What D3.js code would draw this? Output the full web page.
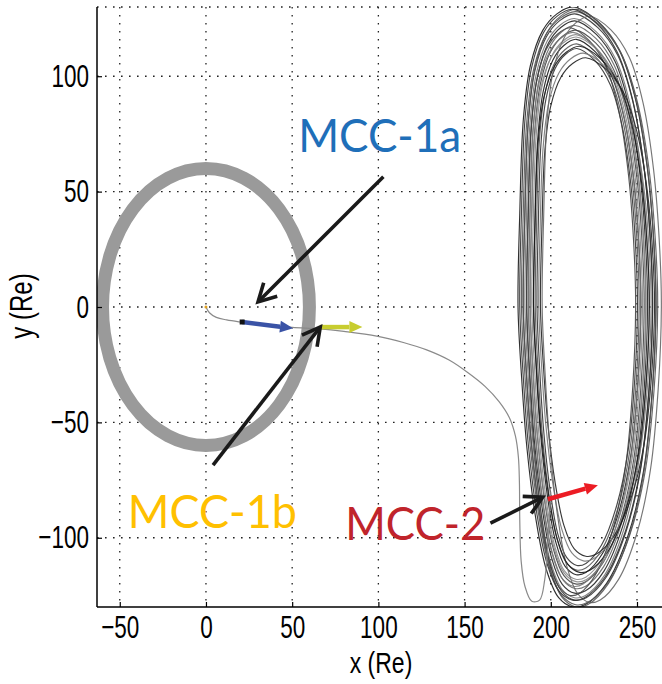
<!DOCTYPE html>
<html><head><meta charset="utf-8">
<script src="https://cdn.jsdelivr.net/npm/d3@7"></script>
<style>
html,body{margin:0;padding:0;background:#fff;}
svg{display:block;}
</style></head>
<body>
<svg id="chart" width="662" height="684"></svg>
<script>
// ---------- data ----------
const xTicks = [-50, 0, 50, 100, 150, 200, 250];
const yTicks = [-100, -50, 0, 50, 100];
const xDomain = [-63.2, 264.5];
const yDomain = [-130, 130];

// lunar orbit (ring)
const moonOrbitCenter = [0, 0];
const moonOrbitRadius = 60;

// transfer trajectory (x, y in Re)
const trajX = [0, 2, 6, 12, 20, 35, 50, 66, 80, 99, 115, 128, 141, 152, 162, 170, 176, 179.5, 181.2, 181.8, 182, 182.8, 185, 189, 193.5, 196.5, 198.5, 200];
const trajY = [0, -2.5, -4.5, -5.6, -6.5, -7.8, -8.8, -9.5, -10.6, -12.6, -15.5, -18.6, -23, -28.5, -34.5, -41, -48, -56, -65, -76, -92, -110, -121, -127.5, -127, -118, -100, -80];

// halo orbit: normalized base loop shape (u across, v vertical)
const haloShapeU = [-0.215, 0.139, 0.443, 0.671, 0.848, 0.949, 0.975, 0.924, 0.797, 0.570, 0.266, -0.038, -0.215, -0.418, -0.595, -0.747, -0.873, -0.949, -1, -0.975, -0.924, -0.823, -0.646, -0.443];
const haloShapeV = [1, 0.953, 0.859, 0.703, 0.469, 0.195, 0, -0.273, -0.547, -0.766, -0.922, -0.992, -1, -0.969, -0.875, -0.703, -0.469, -0.234, 0, 0.313, 0.625, 0.805, 0.922, 0.977];
// per-loop extents (Re)
const haloLeft   = [181, 183, 184, 185, 186, 187, 188, 189, 190, 191, 192, 193, 194, 195, 186, 188, 190, 184, 182, 187];
const haloRight  = [262, 263, 260, 258, 257, 256, 255, 254, 253, 252, 251, 259, 261, 265, 250, 256, 258, 262, 260, 253];
const haloTop    = [130, 128, 127, 125, 124, 122, 120, 118, 116, 114, 112, 110, 108, 126, 121, 117, 113, 129, 129, 119];
const haloBottom = [-130, -129, -127, -126, -124, -122, -120, -118, -116, -114, -112, -110, -108, -128, -125, -119, -115, -130, -127, -121];

// maneuver burns
const burnNames = ["MCC-1a", "MCC-1b", "MCC-2"];
const burnStart = [[21, -6.5], [66, -8.7], [198.3, -83.3]];
const burnEnd   = [[50.5, -9.2], [90.7, -8.7], [227.3, -77.2]];

// annotation arrows (tail -> tip)
const annotTail = [[102.9, 56.4], [4.1, -68.5], [165, -93.7]];
const annotTip  = [[30.2, 2.2], [66.3, -8.7], [195.3, -82.4]];
// label anchor positions (x left, y baseline in Re)
const labelPos = [[53.5, 67.3], [-45.3, -95.8], [80.8, -101]];

// ---------- drawing ----------
const svg = d3.select("#chart");
const L = 97, R = 662, T = 7, B = 607;
const x = d3.scaleLinear().domain(xDomain).range([L, R]);
const y = d3.scaleLinear().domain(yDomain).range([B, T]);

svg.append("defs").append("clipPath").attr("id", "clip")
  .append("rect").attr("x", L).attr("y", T).attr("width", R - L).attr("height", B - T);

// grid
const grid = svg.append("g");
const dash = "1.6,6.4";
grid.selectAll(".gx").data(xTicks).join("line")
  .attr("x1", d => x(d)).attr("x2", d => x(d)).attr("y1", T).attr("y2", B)
  .attr("stroke", "#222").attr("stroke-width", 1.3).attr("stroke-dasharray", dash);
grid.selectAll(".gy").data(yTicks.concat([yDomain[1]])).join("line")
  .attr("y1", d => y(d)).attr("y2", d => y(d)).attr("x1", L).attr("x2", R)
  .attr("stroke", "#222").attr("stroke-width", 1.3).attr("stroke-dasharray", dash);

const plot = svg.append("g").attr("clip-path", "url(#clip)");

// lunar orbit ring
plot.append("ellipse")
  .attr("cx", x(moonOrbitCenter[0])).attr("cy", y(moonOrbitCenter[1]))
  .attr("rx", x(moonOrbitRadius) - x(0)).attr("ry", y(0) - y(moonOrbitRadius))
  .attr("fill", "none").attr("stroke", "#9a9a9a").attr("stroke-width", 13);

// halo loops
const haloLine = d3.line().x(d => x(d[0])).y(d => y(d[1])).curve(d3.curveCatmullRomClosed);
const shades = ["#1a1a1a", "#555", "#333", "#777", "#222", "#666", "#444", "#888"];
haloLeft.forEach((l, i) => {
  const r = haloRight[i], t = haloTop[i], b = haloBottom[i];
  const pts = haloShapeU.map((u, k) => {
    const v = haloShapeV[k];
    return [l + (u + 1) / 2 * (r - l), v >= 0 ? v * t : -v * b];
  });
  plot.append("path").attr("d", haloLine(pts))
    .attr("fill", "none").attr("stroke", shades[i % shades.length])
    .attr("stroke-width", 1.15).attr("stroke-opacity", 0.9);
});

// transfer trajectory
const trajLine = d3.line().x(d => x(d[0])).y(d => y(d[1])).curve(d3.curveCatmullRom);
plot.append("path").attr("d", trajLine(trajX.map((v, i) => [v, trajY[i]])))
  .attr("fill", "none").attr("stroke", "#8a8a8a").attr("stroke-width", 1.2);
plot.append("circle").attr("cx", x(0)).attr("cy", y(0)).attr("r", 1.5).attr("fill", "#e0a020");

// burn arrows
const burnColors = ["#3a53a6", "#c8cd2f", "#ec1c24"];
burnNames.forEach((n, i) => {
  const x0 = x(burnStart[i][0]), y0 = y(burnStart[i][1]);
  const x1 = x(burnEnd[i][0]), y1 = y(burnEnd[i][1]);
  const ang = Math.atan2(y1 - y0, x1 - x0);
  const hl = 13, hw = 6;
  const bx = x1 - hl * Math.cos(ang), by = y1 - hl * Math.sin(ang);
  svg.append("line").attr("x1", x0).attr("y1", y0).attr("x2", bx).attr("y2", by)
    .attr("stroke", burnColors[i]).attr("stroke-width", 4.5);
  svg.append("path").attr("d", `M${x1},${y1}L${bx - hw * Math.sin(ang)},${by + hw * Math.cos(ang)}L${bx + hw * Math.sin(ang)},${by - hw * Math.cos(ang)}Z`)
    .attr("fill", burnColors[i]);
  if (i === 0) svg.append("rect").attr("x", x0 - 2.5).attr("y", y0 - 2.5).attr("width", 5).attr("height", 5).attr("fill", "#111");
});

// annotation arrows
annotTail.forEach((tl, i) => {
  const x0 = x(tl[0]), y0 = y(tl[1]), x1 = x(annotTip[i][0]), y1 = y(annotTip[i][1]);
  const ang = Math.atan2(y1 - y0, x1 - x0);
  const al = 20, spread = 0.5;
  const p1 = [x1 - al * Math.cos(ang - spread), y1 - al * Math.sin(ang - spread)];
  const p2 = [x1 - al * Math.cos(ang + spread), y1 - al * Math.sin(ang + spread)];
  svg.append("line").attr("x1", x0).attr("y1", y0).attr("x2", x1 - 2 * Math.cos(ang)).attr("y2", y1 - 2 * Math.sin(ang))
    .attr("stroke", "#1a1a1a").attr("stroke-width", 3.6);
  svg.append("path").attr("d", `M${p1[0]},${p1[1]}L${x1},${y1}L${p2[0]},${p2[1]}`)
    .attr("fill", "none").attr("stroke", "#1a1a1a").attr("stroke-width", 3.6)
    .attr("stroke-linejoin", "miter").attr("stroke-linecap", "butt");
});

// labels
const labelColors = ["#1f6fb9", "#ffc000", "#c0242b"];
const labelWidths = [163, 169, 140];
burnNames.forEach((n, i) => {
  svg.append("text").attr("x", x(labelPos[i][0])).attr("y", y(labelPos[i][1]))
    .attr("font-family", "Lato, 'Open Sans', sans-serif").attr("font-size", 46)
    .attr("fill", labelColors[i])
    .attr("textLength", labelWidths[i]).attr("lengthAdjust", "spacingAndGlyphs")
    .text(n);
});

// axes
const sy = 1.42;
const xAxis = svg.append("g").attr("transform", `translate(0,${B})`)
  .call(d3.axisBottom(x).tickValues(xTicks).tickSizeInner(-5).tickSizeOuter(0).tickPadding(8.5));
const yAxis = svg.append("g").attr("transform", `translate(${L},0)`)
  .call(d3.axisLeft(y).tickValues(yTicks).tickSizeInner(-5).tickSizeOuter(0).tickPadding(8));
[xAxis, yAxis].forEach(g => {
  g.select(".domain").attr("stroke", "#000").attr("stroke-width", 1.5);
  g.selectAll(".tick line").attr("stroke", "#000").attr("stroke-width", 1.2);
  g.selectAll(".tick text")
    .attr("font-family", "'Liberation Sans', Arial, sans-serif").attr("font-size", 22.5).attr("fill", "#000")
    .each(function () {
      const t = d3.select(this);
      const yy = +t.attr("y") || 0;
      t.attr("y", yy / sy).attr("transform", `scale(1,${sy})`);
    });
});
xAxis.select(".domain").attr("d", `M${L},0H${R}`);
yAxis.select(".domain").attr("d", `M0,${T}V${B}`);

// axis titles
svg.append("text").attr("transform", `translate(381,673) scale(1,1.3)`)
  .attr("text-anchor", "middle")
  .attr("font-family", "'Liberation Sans', Arial, sans-serif").attr("font-size", 23).attr("fill", "#000")
  .text("x (Re)");
svg.append("text").attr("transform", `translate(32,306) rotate(-90) scale(1,1.3)`)
  .attr("text-anchor", "middle")
  .attr("font-family", "'Liberation Sans', Arial, sans-serif").attr("font-size", 24).attr("fill", "#000")
  .text("y (Re)");
</script>
</body></html>
